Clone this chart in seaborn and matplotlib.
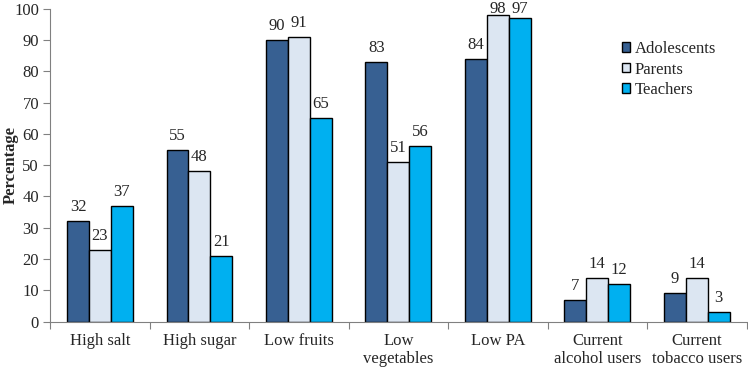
import pandas as pd
import numpy as np
import matplotlib.pyplot as plt
import seaborn as sns

categories = ["High salt", "High sugar", "Low fruits", "Low\nvegetables", "Low PA",
              "Current\nalcohol users", "Current\ntobacco users"]
adolescents = [32, 55, 90, 83, 84, 7, 9]
parents = [23, 48, 91, 51, 98, 14, 14]
teachers = [37, 21, 65, 56, 97, 12, 3]
groups = ["Adolescents", "Parents", "Teachers"]
colors = ["#376092", "#DCE6F2", "#00B0F0"]

df = pd.DataFrame({
    "category": categories * 3,
    "value": adolescents + parents + teachers,
    "group": [g for g in groups for _ in categories],
})

sns.set_style("white")
plt.rcParams["font.family"] = ["Liberation Serif", "DejaVu Serif"]
fs = 12

fig = plt.figure(figsize=(7.48, 3.69), dpi=100)
ax = fig.add_axes([0.067, 0.1287, 0.931, 0.847])
sns.barplot(data=df, x="category", y="value", hue="group", palette=colors,
            width=0.66, gap=0, edgecolor="black", linewidth=1, saturation=1, ax=ax)

# value labels; the ones near 100 get pushed down so they stay inside the figure
for cont in ax.containers:
    for bar in cont:
        h = bar.get_height()
        ypos = min(h + 3.2, 98.7)
        ax.text(bar.get_x() + bar.get_width() / 2, ypos, f"{h:.0f}",
                ha="center", va="baseline", fontsize=fs)

ax.set_ylim(0, 100)
ax.set_yticks(np.arange(0, 101, 10))
ax.set_xlim(-0.5, len(categories) - 0.5)
ax.set_xticks(np.arange(-0.5, len(categories), 1))
ax.set_xticklabels([])
ax.set_xticks(np.arange(len(categories)), categories, minor=True)
ax.tick_params(axis="x", which="major", direction="out", length=5, color="#808080", bottom=True)
ax.tick_params(axis="x", which="minor", length=0, labelsize=fs, pad=8)
ax.tick_params(axis="y", direction="out", length=5, color="#808080", left=True, labelsize=fs, pad=3)
ax.set_xlabel("")
ax.set_ylabel("Percentage", fontsize=fs, fontweight="bold")
ax.yaxis.set_label_coords(-0.045, 0.5)

for s in ["top", "right"]:
    ax.spines[s].set_visible(False)
for s in ["left", "bottom"]:
    ax.spines[s].set_color("#808080")

ax.legend(loc="upper left", bbox_to_anchor=(622 / 748, 1 - 41 / 369),
          bbox_transform=fig.transFigure, frameon=False, fontsize=fs,
          borderpad=0, borderaxespad=0,
          handlelength=0.5, handleheight=0.5, handletextpad=0.25, labelspacing=0.27)

plt.savefig("out.png", dpi=100)
